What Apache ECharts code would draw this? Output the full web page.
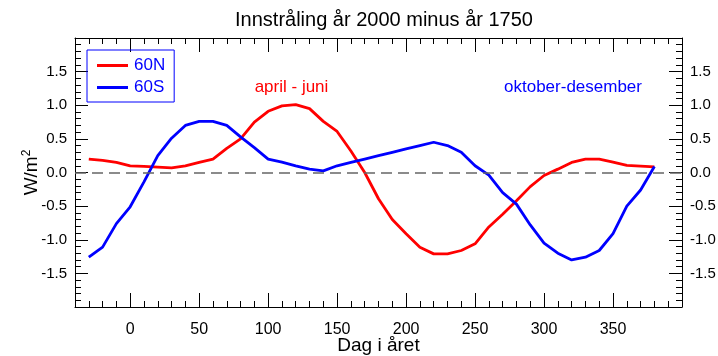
<!DOCTYPE html>
<html>
<head>
<meta charset="utf-8">
<script src="https://cdn.jsdelivr.net/npm/echarts@6/dist/echarts.min.js"></script>
<style>html,body{margin:0;padding:0;background:#fff}#c{width:718px;height:356px}</style>
</head>
<body>
<div id="c"></div>
<script>
// Day of year
var days = [-30,-20,-10,0,10,20,30,40,50,60,70,80,90,100,110,120,130,140,150,160,170,180,190,200,210,220,230,240,250,260,270,280,290,300,310,320,330,340,350,360,370,380];
// 60N insolation difference (W/m2)
var n60 = [0.20,0.18,0.15,0.10,0.09,0.08,0.07,0.10,0.15,0.20,0.36,0.50,0.75,0.91,0.99,1.01,0.95,0.76,0.61,0.32,0.00,-0.39,-0.70,-0.91,-1.11,-1.21,-1.21,-1.16,-1.06,-0.81,-0.62,-0.42,-0.21,-0.045,0.05,0.15,0.20,0.20,0.155,0.105,0.095,0.085];
// 60S insolation difference (W/m2)
var s60 = [-1.26,-1.11,-0.76,-0.51,-0.14,0.25,0.51,0.70,0.76,0.76,0.70,0.53,0.37,0.20,0.155,0.10,0.05,0.025,0.10,0.15,0.20,0.25,0.30,0.35,0.40,0.45,0.40,0.30,0.10,-0.04,-0.30,-0.47,-0.78,-1.05,-1.20,-1.30,-1.26,-1.16,-0.91,-0.50,-0.26,0.09];
var xLabels = [0,50,100,150,200,250,300,350];
var yLabels = [-1.5,-1.0,-0.5,0.0,0.5,1.0,1.5];
var seriesNames = ['60N','60S'];
var titleText = 'Innstråling år 2000 minus år 1750';
var xName = 'Dag i året';
var noteSummer = 'april - juni';
var noteWinter = 'oktober-desember';

var FONT = '"Liberation Sans", Arial, Helvetica, sans-serif';
var chart = echarts.init(document.getElementById('c'), null, {renderer:'canvas'});
function pairs(v){ return days.map(function(d,i){ return [d, v[i]]; }); }
var axLine = {show:true, onZero:false, lineStyle:{color:'#000', width:1}};
var axNoLine = {show:false, onZero:false};
function xAx(pos, major, labels){
  return {
    type:'value', position:pos, min:-40, max:400, interval:10,
    axisLine: major ? axNoLine : axLine,
    splitLine:{show:false},
    axisTick: major ? {show:true, inside:true, length:14, customValues:xLabels, lineStyle:{color:'#000',width:1}}
                    : {show:true, inside:true, length:6, lineStyle:{color:'#000',width:1}},
    axisLabel: labels ? {show:true, customValues:xLabels, margin:15, fontSize:16, color:'#000', fontFamily:FONT} : {show:false}
  };
}
function yAx(pos, major, labels){
  return {
    type:'value', position:pos, min:-2, max:2, interval:0.1,
    axisLine: major ? axNoLine : axLine,
    splitLine:{show:false},
    axisTick: major ? {show:true, inside:true, length:13, customValues:yLabels, lineStyle:{color:'#000',width:1}}
                    : {show:true, inside:true, length:6, lineStyle:{color:'#000',width:1}},
    axisLabel: labels ? {show:true, customValues:yLabels, margin:8, fontSize:15, color:'#000', fontFamily:FONT,
                         formatter:function(v){ return (Math.abs(v)<1e-9?0:v).toFixed(1); }} : {show:false}
  };
}
var xa0 = xAx('bottom', false, true);
xa0.name = xName; xa0.nameLocation = 'middle'; xa0.nameGap = 29; xa0.nameMoveOverlap = false;
xa0.nameTextStyle = {fontSize:19, color:'#000', fontFamily:FONT};
var ya0 = yAx('left', false, true);
ya0.name = 'W/m{sup|2}'; ya0.nameLocation = 'middle'; ya0.nameGap = 33; ya0.nameRotate = 90; ya0.nameMoveOverlap = false;
ya0.nameTextStyle = {fontSize:19, color:'#000', fontFamily:FONT,
  rich:{sup:{fontSize:12, color:'#000', fontFamily:FONT, verticalAlign:'top', padding:[0,0,9,0]}}};

var option = {
  animation:false,
  backgroundColor:'#fff',
  title:{text:titleText, left:379, top:5, textAlign:'center',
         textStyle:{fontSize:20, fontWeight:'normal', color:'#000', fontFamily:FONT}},
  grid:{left:75, right:36, top:38, bottom:49, containLabel:false, outerBoundsMode:'none'},
  legend:{
    data:seriesNames, orient:'vertical', left:87, top:50, icon:'rect', itemWidth:31, itemHeight:3,
    itemGap:5, padding:[7,9,6,10], borderColor:'#0000ff', borderWidth:1,
    textStyle:{fontSize:17, color:'#0000ff', fontFamily:FONT, padding:[0,0,0,1]}
  },
  xAxis:[xa0, xAx('bottom', true, false), xAx('top', false, false), xAx('top', true, false)],
  yAxis:[ya0, yAx('left', true, false), yAx('right', false, true), yAx('right', true, false)],
  graphic:[
    {type:'text', x:291.5, y:87, style:{text:noteSummer, fill:'#ff0000', font:'17px '+FONT, textAlign:'center', textVerticalAlign:'middle', align:'center', verticalAlign:'middle'}},
    {type:'text', x:573, y:87, style:{text:noteWinter, fill:'#0000ff', font:'17px '+FONT, textAlign:'center', textVerticalAlign:'middle', align:'center', verticalAlign:'middle'}}
  ],
  series:[
    {name:seriesNames[0], type:'line', data:pairs(n60), showSymbol:false, symbol:'none',
     color:'#ff0000', lineStyle:{color:'#ff0000', width:2.8}, z:3,
     markLine:{silent:true, symbol:['none','none'], label:{show:false},
       lineStyle:{color:'#666', type:[11,6], width:1.5}, data:[{yAxis:0}]}},
    {name:seriesNames[1], type:'line', data:pairs(s60), showSymbol:false, symbol:'none',
     color:'#0000ff', lineStyle:{color:'#0000ff', width:2.8}, z:4}
  ]
};
chart.setOption(option);
</script>
</body>
</html>
